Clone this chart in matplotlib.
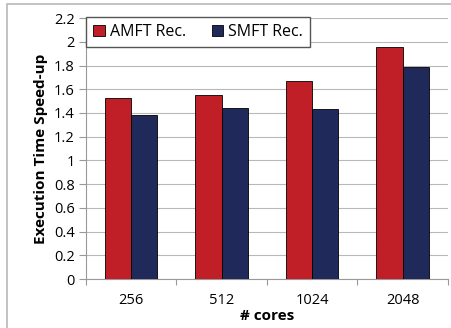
import numpy as np
import matplotlib.pyplot as plt
from matplotlib.patches import Rectangle

# data
cores = ["256", "512", "1024", "2048"]
amft = [1.53, 1.55, 1.67, 1.96]
smft = [1.38, 1.44, 1.43, 1.79]
yticks = [0, 0.2, 0.4, 0.6, 0.8, 1, 1.2, 1.4, 1.6, 1.8, 2, 2.2]
ytick_labels = ["0", "0.2", "0.4", "0.6", "0.8", "1", "1.2", "1.4", "1.6", "1.8", "2", "2.2"]

plt.rcParams['font.family'] = ['Open Sans', 'DejaVu Sans']

fig = plt.figure(figsize=(4.52, 3.28), dpi=100)
ax = fig.add_axes([0.190, 0.149, 0.801, 0.796])

# outer frame like the original figure border
fig.patches.append(Rectangle((7 / 452, -0.1), 1.2, 1 - 4 / 328 + 0.1, transform=fig.transFigure,
                             fill=False, edgecolor='#b8b8b8', linewidth=1.2))

x = np.arange(len(cores))
w = 0.29
ax.bar(x - w / 2, amft, w, color='#c01f27', edgecolor='black', linewidth=0.6, label='AMFT Rec.', zorder=3)
ax.bar(x + w / 2, smft, w, color='#1f295a', edgecolor='black', linewidth=0.6, label='SMFT Rec.', zorder=3)

ax.set_xlim(-0.5, len(cores) - 0.5)
ax.set_ylim(0, 2.2)
ax.set_yticks(yticks)
ax.set_yticklabels(ytick_labels)
ax.set_xticks(x)
ax.set_xticklabels(cores)
ax.set_xticks(np.arange(-0.5, len(cores), 1), minor=True)
ax.tick_params(axis='x', which='major', length=0, labelsize=10.5, pad=10)
ax.tick_params(axis='x', which='minor', length=4, color='#999999', width=0.8)
ax.tick_params(axis='y', length=5, color='#999999', width=0.8, labelsize=10.5, pad=3)

ax.grid(axis='y', color='#b8b8b8', linewidth=0.8, zorder=0)
for s in ['top', 'right']:
    ax.spines[s].set_visible(False)
for s in ['left', 'bottom']:
    ax.spines[s].set_color('#999999')
    ax.spines[s].set_linewidth(0.8)

ax.set_ylabel('Execution Time Speed-up', fontsize=11, fontweight='bold', labelpad=4)
ax.set_xlabel('# cores', fontsize=11, fontweight='bold', labelpad=1)

leg = ax.legend(loc='upper left', ncol=2, bbox_to_anchor=(0.0, 1.005), fontsize=11.5,
                frameon=True, fancybox=False, edgecolor='#555555', framealpha=1,
                handlelength=0.75, handleheight=0.75, handletextpad=0.3, columnspacing=1.6,
                borderpad=0.45, borderaxespad=0)
leg.get_frame().set_linewidth(1.0)
leg._legend_box.align = 'left'

fig.savefig('out.png', dpi=100)
